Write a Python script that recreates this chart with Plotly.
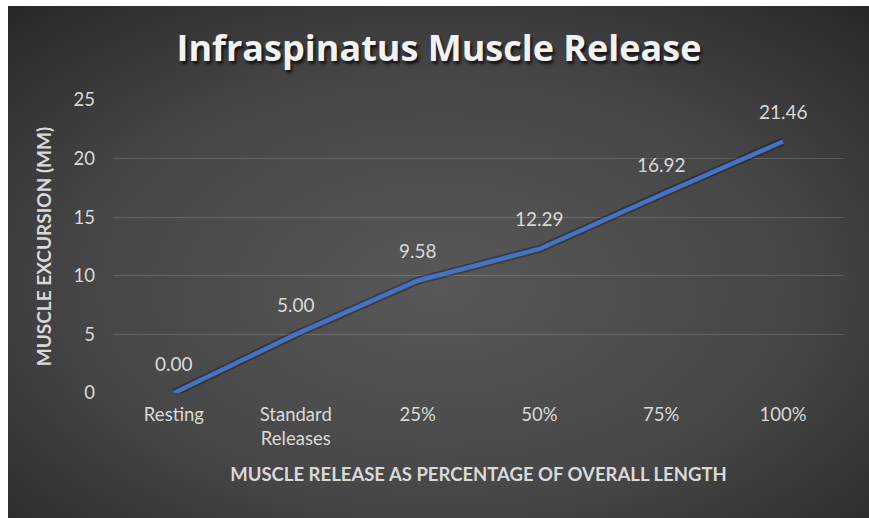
import base64
import plotly.graph_objects as go

categories = ["Resting", "Standard<br>Releases", "25%", "50%", "75%", "100%"]
excursion_mm = [0.00, 5.00, 9.58, 12.29, 16.92, 21.46]
y_ticks = [0, 5, 10, 15, 20, 25]

title_text = "Infraspinatus Muscle Release"
x_title = "MUSCLE RELEASE AS PERCENTAGE OF OVERALL LENGTH"
y_title = "MUSCLE EXCURSION (MM)"

W, H = 869, 518
L, R, T, B = 113, 25, 100, 125
BX, BY = 8, 6  # white border at left / top
TXT = "#d9d9d9"
FONT = "Lato, 'Open Sans', sans-serif"

gw, gh = W - BX + 20, H - BY + 20
svg = (
    f'<svg xmlns="http://www.w3.org/2000/svg" width="{gw}" height="{gh}" '
    f'viewBox="0 0 {gw} {gh}" preserveAspectRatio="none">'
    '<defs><radialGradient id="g" cx="0.49" cy="0.53" r="0.74">'
    '<stop offset="0" stop-color="#585858"/>'
    '<stop offset="0.55" stop-color="#464646"/>'
    '<stop offset="1" stop-color="#262626"/>'
    '</radialGradient></defs>'
    f'<rect width="{gw}" height="{gh}" fill="url(#g)"/></svg>'
)
bg_uri = "data:image/svg+xml;base64," + base64.b64encode(svg.encode()).decode()

pw = W - L - R
ph = H - T - B

fig = go.Figure()
fig.add_trace(go.Scatter(
    x=categories, y=excursion_mm, mode="lines",
    line=dict(color="rgba(0,0,0,0.3)", width=8),
    hoverinfo="skip", showlegend=False,
))
fig.add_trace(go.Scatter(
    x=categories, y=excursion_mm, mode="lines",
    line=dict(color="#4472C4", width=4.5),
    showlegend=False,
))

for c, v in zip(categories, excursion_mm):
    fig.add_annotation(
        x=c, y=v, text=f"{v:.2f}", showarrow=False, yshift=30,
        font=dict(family=FONT, size=19, color=TXT),
    )

# white page border at left and top
fig.add_shape(type="rect", xref="paper", yref="paper", layer="above",
              x0=-L / pw - 0.01, x1=(BX - L) / pw, y0=-B / ph - 0.05, y1=1 + T / ph + 0.05,
              fillcolor="white", line_width=0)
fig.add_shape(type="rect", xref="paper", yref="paper", layer="above",
              x0=-L / pw - 0.01, x1=1 + R / pw + 0.05, y0=1 + (T - BY) / ph, y1=1 + T / ph + 0.05,
              fillcolor="white", line_width=0)

fig.update_layout(
    width=W, height=H,
    margin=dict(l=L, r=R, t=T, b=B),
    paper_bgcolor="#2e2e2e",
    plot_bgcolor="rgba(0,0,0,0)",
    images=[dict(
        source=bg_uri, xref="paper", yref="paper",
        x=(BX - L) / pw, y=1 + (T - BY) / ph,
        sizex=gw / pw, sizey=gh / ph,
        xanchor="left", yanchor="top", sizing="stretch", layer="below",
    )],
    title=dict(
        text=f"<b>{title_text}</b>", x=439 / W, xanchor="center",
        y=1 - 48 / H, yanchor="middle",
        font=dict(family="'Open Sans', sans-serif", size=36, color="#f2f2f2",
                  shadow="2px 3px 3px rgba(0,0,0,0.7)"),
    ),
    font=dict(family=FONT, color=TXT),
    xaxis=dict(
        type="category", range=[-0.5, 5.5],
        showgrid=False, zeroline=False, showline=False,
        tickfont=dict(family=FONT, size=18.5, color=TXT),
        ticklabelstandoff=8,
        title=dict(text=f"<b>{x_title}</b>", standoff=20,
                   font=dict(family=FONT, size=18.5, color=TXT)),
    ),
    yaxis=dict(
        range=[0, 25], tickvals=y_ticks,
        showgrid=True, gridcolor="rgba(255,255,255,0.16)", gridwidth=1,
        zeroline=False, showline=False,
        tickfont=dict(family=FONT, size=18.5, color=TXT),
        ticklabelstandoff=17,
        title=dict(text=f"<b>{y_title}</b>", standoff=16,
                   font=dict(family=FONT, size=19, color=TXT)),
    ),
)

fig.write_html(
    "out.html",
    config={"displayModeBar": False},
    post_script="document.body.style.margin='0';document.body.style.overflow='hidden';",
)
